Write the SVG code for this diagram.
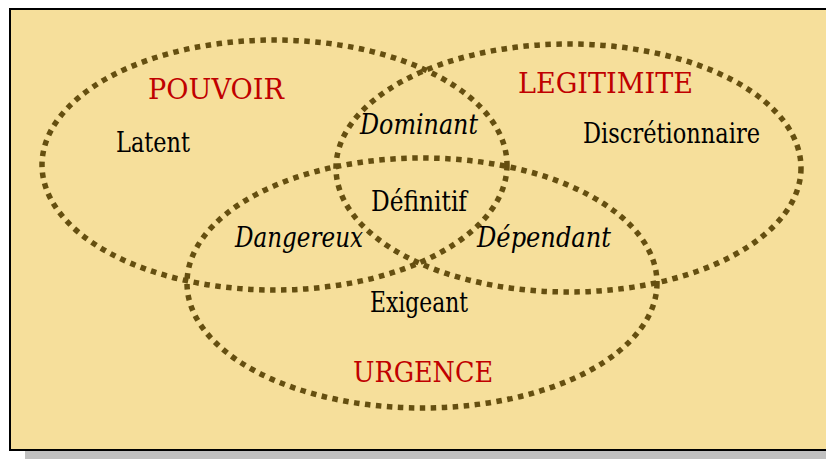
<svg xmlns="http://www.w3.org/2000/svg" width="826" height="459" viewBox="0 0 826 459">
<style>
.ring{fill:none;stroke:#654F10;stroke-width:5.5;stroke-dasharray:5.5 5.5}
.t{font-family:'DejaVu Serif','Liberation Serif',serif;font-size:28px;fill:#000}
.h{fill:#C00000}
.i{font-style:italic}
</style>
<rect x="25" y="445" width="820" height="20" fill="#C0C0C0"/>
<rect x="10" y="9" width="830" height="441" fill="#F6DF9B" stroke="#000" stroke-width="2"/>
<g id="connectors"></g>
<g id="pouvoir">
<ellipse class="ring" cx="274.5" cy="165" rx="232.5" ry="125"/>
<text class="t h" x="148" y="99" textLength="136" lengthAdjust="spacingAndGlyphs">POUVOIR</text>
<text class="t" x="116" y="152" textLength="74" lengthAdjust="spacingAndGlyphs">Latent</text>
</g>
<g id="legitimite">
<ellipse class="ring" cx="568.5" cy="168" rx="232.5" ry="124"/>
<text class="t h" x="518" y="93" textLength="175" lengthAdjust="spacingAndGlyphs">LEGITIMITE</text>
<text class="t" x="583" y="143" textLength="177" lengthAdjust="spacingAndGlyphs">Discrétionnaire</text>
</g>
<g id="urgence">
<ellipse class="ring" cx="422" cy="283" rx="235" ry="125"/>
<text class="t h" x="353" y="382" textLength="140" lengthAdjust="spacingAndGlyphs">URGENCE</text>
<text class="t" x="370" y="312" textLength="98" lengthAdjust="spacingAndGlyphs">Exigeant</text>
</g>
<g id="dominant"><text class="t i" x="360" y="134" textLength="118" lengthAdjust="spacingAndGlyphs">Dominant</text></g>
<g id="definitif"><text class="t" x="371" y="211" textLength="96" lengthAdjust="spacingAndGlyphs">Définitif</text></g>
<g id="dangereux"><text class="t i" x="235" y="247" textLength="128" lengthAdjust="spacingAndGlyphs">Dangereux</text></g>
<g id="dependant"><text class="t i" x="477" y="247" textLength="134" lengthAdjust="spacingAndGlyphs">Dépendant</text></g>
</svg>
